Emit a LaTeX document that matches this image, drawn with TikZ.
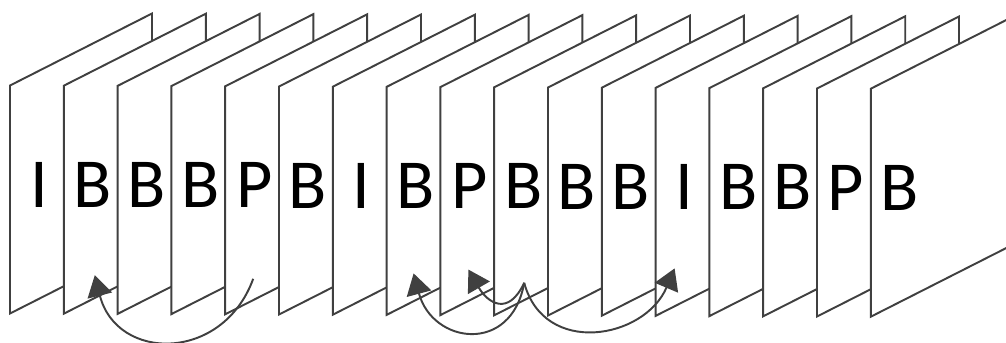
\documentclass[tikz,border=0pt]{standalone}
\usepackage{fontspec}
\setmainfont{Carlito}
\usetikzlibrary{arrows.meta,calc}
\definecolor{FrameGray}{RGB}{64,64,64}
\tikzset{
  picframe/.style={draw=FrameGray,fill=white,line width=1.1pt},
  ftype/.style={anchor=base,inner sep=0pt,font=\fontsize{40}{44}\selectfont},
  refarrow/.style={-{Triangle[length=0.42cm,width=0.5cm]},draw=FrameGray,
    line width=1.1pt}
}

\begin{document}
\begin{tikzpicture}[x=0.02cm,y=0.02cm]
  \useasboundingbox (0,0) rectangle (1006,342);
  \clip (0,0) rectangle (1006,342);
  \foreach \t [count=\i from 0] in {I,B,B,B,P,B,I,B,P,B,B,B,I,B,B,P,B} {
    \pgfmathsetmacro{\fx}{10+53.8*\i}
    \pgfmathsetmacro{\fd}{-0.2*\i}
    \draw[picframe] (\fx,28.5+\fd) -- ++(142,72) -- ++(0,228) -- ++(-142,-72) -- cycle;
    \node[ftype] (f\i) at (\fx+29,135+\fd) {\t};
    \coordinate (a\i) at (\fx+28,64+\fd);
  }
  \coordinate (cusp) at ($(a9)+(2,-3)$);
  \draw[refarrow] (a4) to[out=-110,in=-76,looseness=1.44] ($(a1)+(3,3)$);
  \draw[refarrow] (cusp) to[out=-100,in=-75,looseness=1.69] ($(a7)+(-1,6)$);
  \draw[refarrow] (cusp) to[out=-115,in=-60,looseness=1.7] ($(a8)+(0,10)$);
  \draw[refarrow] (cusp) to[out=-75,in=-113,looseness=1.3] ($(a12)+(-9,12)$);
\end{tikzpicture}
\end{document}
